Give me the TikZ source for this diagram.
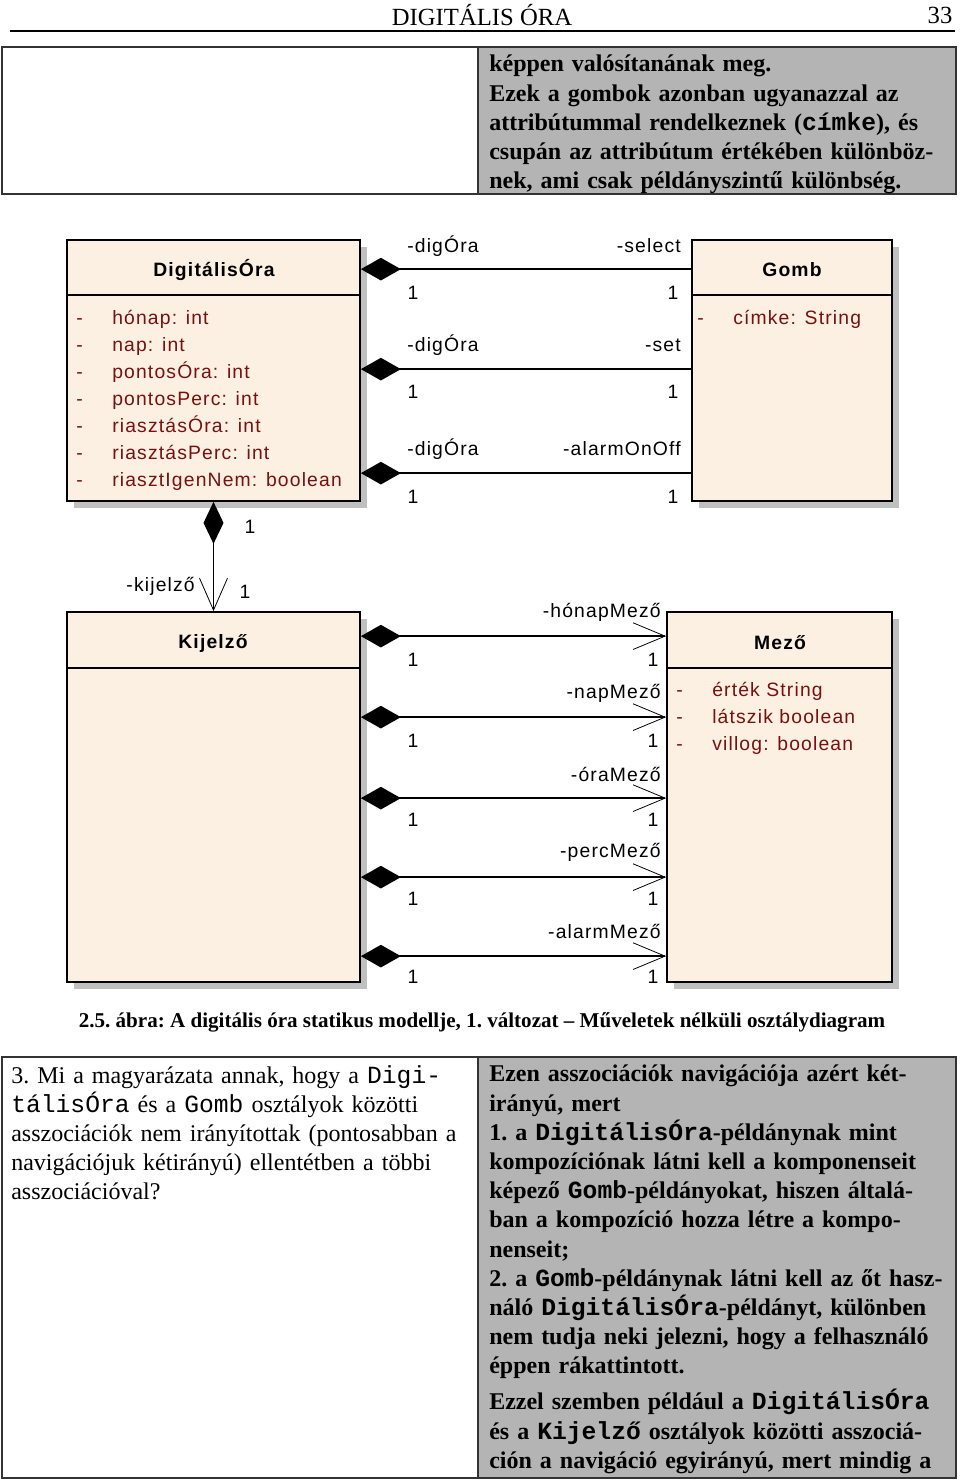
\documentclass[tikz,border=0pt]{standalone}
\usepackage{fontspec}
\setmainfont{Liberation Serif}
\setsansfont{Liberation Sans}[LetterSpace=6]
\setmonofont{Liberation Mono}
\usetikzlibrary{arrows.meta, positioning, fit, shadows}
\frenchspacing
\definecolor{classfill}{RGB}{251,240,225}
\definecolor{attrred}{RGB}{120,16,16}
\definecolor{cellgray}{RGB}{180,180,180}
\definecolor{shadowgray}{RGB}{192,192,192}
\newcommand{\cd}[1]{{\ttfamily\fontsize{18.5}{21.9}\selectfont #1}}
\newcommand{\attr}[1]{\makebox[27pt][l]{-}#1}
\tikzset{
  classbox/.style={draw=black, line width=1.3pt, fill=classfill, inner sep=0pt,
    drop shadow={shadow xshift=5pt, shadow yshift=-5pt, fill=shadowgray, opacity=1}},
  boxline/.style={line width=1.3pt},
  tablerule/.style={line width=1.3pt, draw=black!80},
  classname/.style={font=\sffamily\bfseries\fontsize{14.5}{17}\selectfont, inner sep=0pt},
  attrs/.style={font=\sffamily\fontsize{14.5}{20.25}\selectfont\nonfrenchspacing, text=attrred,
    align=left, inner sep=0pt, anchor=north west},
  umltext/.style={font=\sffamily\fontsize{14.5}{17}\selectfont, inner sep=0pt},
  assoc/.style={line width=1.1pt},
  compo/.style={assoc, {Diamond[length=30pt, width=17pt]}-},
  navcompo/.style={assoc, {Diamond[length=30pt, width=17pt]}-{Straight Barb[length=24pt, width=20pt, line width=0.6pt]}},
  vertnav/.style={assoc, {Diamond[length=31.5pt, width=15pt]}-{Straight Barb[length=24pt, width=21pt, line width=0.6pt]}},
  plaintext/.style={font=\fontsize{18}{21.9}\selectfont, align=left, inner sep=0pt,
    text width=350pt, anchor=north west},
  graytext/.style={plaintext, font=\bfseries\fontsize{18}{21.9}\selectfont}
}

\begin{document}
\begin{tikzpicture}[x=0.75pt, y=-0.75pt]
\useasboundingbox (0,0) rectangle (960,1482);

% page head
\node[font=\fontsize{18.5}{22}\selectfont] (head) at (482,15) {DIGITÁLIS ÓRA};
\node[font=\fontsize{18.5}{22}\selectfont] (pageno) at (940,15) {33};
\draw[line width=1.2pt] (10,31) -- (955,31);

% upper table
\fill[cellgray] (478,47) rectangle (956,194);
\draw[tablerule] (2,47) rectangle (956,194);
\draw[tablerule] (478,47) -- (478,194);
\node[graytext] (answertop) at (489,55) {képpen valósítanának meg.\\
  Ezek a gombok azonban ugyanazzal az\\
  attribútummal rendelkeznek (\cd{címke}), és\\
  csupán az attribútum értékében különböz-\\
  nek, ami csak példányszintű különbség.};

% classes
\node[classbox, fit={(67,240) (360,501)}] (digora) {};
\node[classbox, fit={(692,240) (892,501)}] (gomb) {};
\node[classbox, fit={(67,612) (360,982)}] (kijelzo) {};
\node[classbox, fit={(667,612) (892,982)}] (mezo) {};
\draw[boxline] (67,295) -- (360,295);
\draw[boxline] (692,295) -- (892,295);
\draw[boxline] (67,668) -- (360,668);
\draw[boxline] (667,668) -- (892,668);

\node[classname] (digoraname) at (214,270) {DigitálisÓra};
\node[classname] (gombname) at (792,270) {Gomb};
\node[classname] (kijelzoname) at (213,643) {Kijelző};
\node[classname] (mezoname) at (780,643) {Mező};

\node[attrs] (digoraattr) at (76,310) {\attr{hónap: int}\\ \attr{nap: int}\\
  \attr{pontosÓra: int}\\ \attr{pontosPerc: int}\\ \attr{riasztásÓra: int}\\
  \attr{riasztásPerc: int}\\ \attr{riasztIgenNem: boolean}};
\node[attrs] (gombattr) at (697,310) {\attr{címke: String}};
\node[attrs] (mezoattr) at (676,682) {\attr{érték String}\\ \attr{látszik boolean}\\
  \attr{villog: boolean}};

% DigitalisOra -- Gomb
\draw[compo] ([yshift=-22.5pt]digora.north east) -- ([yshift=-22.5pt]gomb.north west);
\draw[compo] ([yshift=-97.5pt]digora.north east) -- ([yshift=-97.5pt]gomb.north west);
\draw[compo] ([yshift=-175.5pt]digora.north east) -- ([yshift=-175.5pt]gomb.north west);
\node[umltext, anchor=west] (dg1l) at (407,246) {-digÓra};
\node[umltext, anchor=east] (dg1r) at (681,246) {-select};
\node[umltext] (dg1m) at (413,293) {1};
\node[umltext] (dg1n) at (673,293) {1};
\node[umltext, anchor=west] (dg2l) at (407,345) {-digÓra};
\node[umltext, anchor=east] (dg2r) at (681,345) {-set};
\node[umltext] (dg2m) at (413,392) {1};
\node[umltext] (dg2n) at (673,392) {1};
\node[umltext, anchor=west] (dg3l) at (407,449) {-digÓra};
\node[umltext, anchor=east] (dg3r) at (681,449) {-alarmOnOff};
\node[umltext] (dg3m) at (413,497) {1};
\node[umltext] (dg3n) at (673,497) {1};

% DigitalisOra -> Kijelzo
\draw[vertnav] (digora.south) -- (kijelzo.north);
\node[umltext] (dk1) at (250,527) {1};
\node[umltext, anchor=east] (dkl) at (195,586) {-kijelző};
\node[umltext] (dk2) at (245,592) {1};

% Kijelzo -> Mezo
\draw[navcompo] ([yshift=-18.75pt]kijelzo.north east) -- ([yshift=-18.75pt]mezo.north west);
\draw[navcompo] ([yshift=-79.5pt]kijelzo.north east) -- ([yshift=-79.5pt]mezo.north west);
\draw[navcompo] ([yshift=-140.25pt]kijelzo.north east) -- ([yshift=-140.25pt]mezo.north west);
\draw[navcompo] ([yshift=-199.5pt]kijelzo.north east) -- ([yshift=-199.5pt]mezo.north west);
\draw[navcompo] ([yshift=-258.75pt]kijelzo.north east) -- ([yshift=-258.75pt]mezo.north west);
\node[umltext, anchor=east] (km1l) at (661,612) {-hónapMező};
\node[umltext] (km1m) at (413,660) {1};
\node[umltext] (km1n) at (653,660) {1};
\node[umltext, anchor=east] (km2l) at (661,693) {-napMező};
\node[umltext] (km2m) at (413,741) {1};
\node[umltext] (km2n) at (653,741) {1};
\node[umltext, anchor=east] (km3l) at (661,774) {-óraMező};
\node[umltext] (km3m) at (413,820) {1};
\node[umltext] (km3n) at (653,820) {1};
\node[umltext, anchor=east] (km4l) at (661,852) {-percMező};
\node[umltext] (km4m) at (413,899) {1};
\node[umltext] (km4n) at (653,899) {1};
\node[umltext, anchor=east] (km5l) at (661,931) {-alarmMező};
\node[umltext] (km5m) at (413,977) {1};
\node[umltext] (km5n) at (653,977) {1};

% caption
\node[font=\bfseries\fontsize{15.8}{19}\selectfont] (caption) at (482,1022)
  {2.5. ábra: A digitális óra statikus modellje, 1. változat – Műveletek nélküli osztálydiagram};

% lower table
\fill[cellgray] (478,1057) rectangle (956,1478);
\draw[tablerule] (2,1057) rectangle (956,1478);
\draw[tablerule] (478,1057) -- (478,1478);
\node[plaintext] (question) at (11,1065) {3. Mi a magyarázata annak, hogy a \cd{Digi-}\\
  \cd{tálisÓra} és a \cd{Gomb} osztályok közötti\\
  asszociációk nem irányítottak (pontosabban a\\
  navigációjuk kétirányú) ellentétben a többi\\
  asszociációval?};
\node[graytext] (answer) at (489,1065) {Ezen asszociációk navigációja azért két-\\
  irányú, mert\\
  1. a \cd{DigitálisÓra}-példánynak mint\\
  kompozíciónak látni kell a komponenseit\\
  képező \cd{Gomb}-példányokat, hiszen általá-\\
  ban a kompozíció hozza létre a kompo-\\
  nenseit;\\
  2. a \cd{Gomb}-példánynak látni kell az őt hasz-\\
  náló \cd{DigitálisÓra}-példányt, különben\\
  nem tudja neki jelezni, hogy a felhasználó\\
  éppen rákattintott.\\[5pt]
  Ezzel szemben például a \cd{DigitálisÓra}\\
  és a \cd{Kijelző} osztályok közötti asszociá-\\
  ción a navigáció egyirányú, mert mindig a};
\end{tikzpicture}
\end{document}
